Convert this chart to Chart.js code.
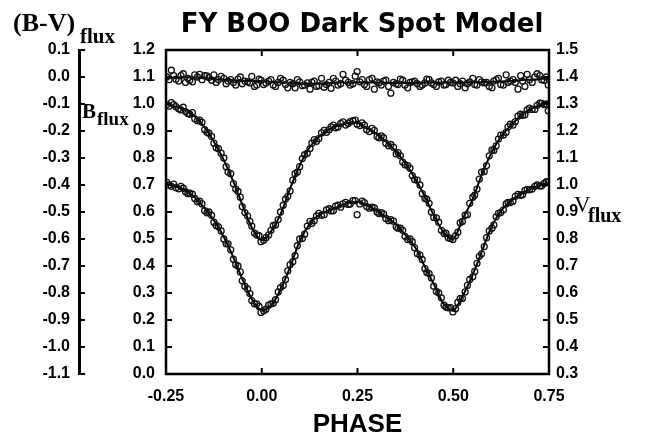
<!DOCTYPE html>
<html lang="en">
<head>
    <meta charset="UTF-8">
    <title>FY BOO Dark Spot Model</title>
    <script src="https://cdn.jsdelivr.net/npm/chart.js"></script>
    <style>
        html, body { margin: 0; padding: 0; background: #fff; }
        #wrap { width: 649px; height: 444px; }
    </style>
</head>
<body>
<div id="wrap"><canvas id="lightChart" width="649" height="444"></canvas></div>
<script>
    // Phase grid of the model curves
    const modelPhase = [-0.25, -0.225, -0.2, -0.175, -0.15, -0.125, -0.1, -0.075, -0.05, -0.025,
        0.0, 0.025, 0.05, 0.075, 0.1, 0.125, 0.15, 0.175, 0.2, 0.225,
        0.25, 0.275, 0.3, 0.325, 0.35, 0.375, 0.4, 0.425, 0.45, 0.475,
        0.5, 0.525, 0.55, 0.575, 0.6, 0.625, 0.65, 0.675, 0.7, 0.725, 0.75];
    // B flux model (left inner axis)
    const modelB = [1.00, 0.99, 0.98, 0.955, 0.915, 0.86, 0.795, 0.715, 0.625, 0.54,
        0.495, 0.53, 0.595, 0.69, 0.775, 0.84, 0.88, 0.905, 0.92, 0.93,
        0.93, 0.91, 0.89, 0.86, 0.825, 0.78, 0.725, 0.66, 0.585, 0.525,
        0.50, 0.575, 0.645, 0.74, 0.82, 0.88, 0.92, 0.955, 0.98, 0.995, 1.01];
    // V flux model (right axis)
    const modelV = [1.005, 0.995, 0.98, 0.955, 0.915, 0.87, 0.81, 0.735, 0.65, 0.575,
        0.535, 0.555, 0.615, 0.70, 0.795, 0.855, 0.89, 0.905, 0.92, 0.933,
        0.938, 0.925, 0.905, 0.88, 0.855, 0.815, 0.77, 0.70, 0.63, 0.56,
        0.535, 0.59, 0.665, 0.755, 0.845, 0.905, 0.94, 0.965, 0.985, 0.998, 1.008];
    // (B-V) flux model (left outer axis)
    const modelBV = [-0.005, -0.002, 0.0, -0.002, -0.005, -0.008, -0.01, -0.012, -0.015, -0.015,
        -0.015, -0.018, -0.02, -0.022, -0.025, -0.025, -0.025, -0.022, -0.02, -0.02,
        -0.02, -0.02, -0.02, -0.021, -0.022, -0.022, -0.022, -0.021, -0.02, -0.02,
        -0.02, -0.02, -0.02, -0.019, -0.018, -0.017, -0.015, -0.012, -0.01, -0.008, -0.005];

    // Observed points, first set
    const obsPhase = [-0.248, -0.236, -0.224, -0.211, -0.199, -0.188, -0.175, -0.162, -0.149, -0.138,
        -0.125, -0.113, -0.099, -0.088, -0.074, -0.062, -0.051, -0.037, -0.026, -0.013,
        -0.002, 0.011, 0.024, 0.036, 0.049, 0.062, 0.074, 0.087, 0.099, 0.112,
        0.126, 0.137, 0.149, 0.163, 0.176, 0.187, 0.199, 0.212, 0.226, 0.238,
        0.249, 0.262, 0.274, 0.288, 0.301, 0.312, 0.324, 0.337, 0.351, 0.362,
        0.374, 0.387, 0.399, 0.413, 0.426, 0.437, 0.449, 0.462, 0.476, 0.487,
        0.499, 0.512, 0.524, 0.537, 0.551, 0.562, 0.574, 0.587, 0.601, 0.612,
        0.624, 0.638, 0.649, 0.662, 0.676, 0.687, 0.699, 0.713, 0.726, 0.737, 0.748];
    const obsB = [0.998, 1.005, 0.99, 0.978, 0.972, 0.962, 0.945, 0.940, 0.905, 0.892,
        0.855, 0.835, 0.800, 0.748, 0.705, 0.676, 0.620, 0.585, 0.548, 0.515,
        0.490, 0.505, 0.532, 0.552, 0.600, 0.648, 0.678, 0.742, 0.768, 0.812,
        0.835, 0.868, 0.872, 0.902, 0.905, 0.922, 0.915, 0.934, 0.928, 0.938,
        0.925, 0.930, 0.905, 0.910, 0.880, 0.882, 0.855, 0.850, 0.815, 0.808,
        0.775, 0.762, 0.720, 0.700, 0.650, 0.632, 0.580, 0.562, 0.520, 0.505,
        0.498, 0.525, 0.565, 0.590, 0.655, 0.685, 0.748, 0.772, 0.830, 0.845,
        0.885, 0.895, 0.925, 0.935, 0.962, 0.960, 0.985, 0.980, 1.003, 0.998, 0.975];
    const obsV = [1.010, 0.995, 0.990, 0.995, 0.975, 0.970, 0.950, 0.940, 0.905, 0.900,
        0.862, 0.845, 0.800, 0.782, 0.725, 0.700, 0.645, 0.615, 0.572, 0.560,
        0.528, 0.540, 0.560, 0.575, 0.620, 0.650, 0.705, 0.738, 0.800, 0.818,
        0.865, 0.868, 0.895, 0.890, 0.912, 0.905, 0.925, 0.930, 0.928, 0.942,
        0.890, 0.940, 0.920, 0.918, 0.900, 0.898, 0.876, 0.872, 0.845, 0.840,
        0.810, 0.800, 0.768, 0.740, 0.690, 0.672, 0.625, 0.600, 0.555, 0.545,
        0.530, 0.565, 0.580, 0.628, 0.660, 0.710, 0.745, 0.805, 0.840, 0.882,
        0.898, 0.930, 0.935, 0.958, 0.962, 0.980, 0.982, 0.995, 0.996, 1.006, 1.010];
    const obsBV = [0.0, 0.025, -0.008, 0.005, -0.02, -0.012, 0.008, 0.01, 0.005, -0.002,
        0.008, -0.01, -0.005, -0.015, -0.02, -0.008, -0.025, -0.018, 0.002, -0.03,
        -0.012, -0.022, -0.01, -0.035, -0.005, -0.028, -0.02, -0.04, -0.018, -0.03,
        -0.045, -0.015, -0.032, -0.038, -0.02, -0.005, -0.03, 0.01, -0.02, -0.025,
        0.02, -0.01, -0.035, -0.005, -0.018, -0.03, -0.012, -0.06, -0.025, -0.008,
        -0.03, -0.02, -0.015, -0.035, -0.022, -0.01, -0.028, -0.018, -0.03, -0.012,
        -0.022, -0.035, -0.015, -0.025, -0.005, -0.03, -0.018, -0.02, -0.04, -0.01,
        -0.028, 0.008, -0.015, -0.02, 0.005, -0.035, -0.01, 0.0, 0.005, -0.012, -0.03];

    // Observed points, second set
    const obsPhase2 = [-0.242, -0.230, -0.217, -0.205, -0.193, -0.181, -0.168, -0.156, -0.143, -0.131,
        -0.119, -0.106, -0.093, -0.081, -0.068, -0.056, -0.044, -0.031, -0.019, -0.007,
        0.005, 0.018, 0.030, 0.043, 0.056, 0.068, 0.081, 0.093, 0.106, 0.119,
        0.131, 0.143, 0.156, 0.169, 0.181, 0.193, 0.206, 0.219, 0.231, 0.244,
        0.256, 0.268, 0.281, 0.294, 0.306, 0.318, 0.331, 0.344, 0.356, 0.368,
        0.381, 0.393, 0.406, 0.419, 0.431, 0.443, 0.456, 0.469, 0.481, 0.493,
        0.506, 0.518, 0.531, 0.543, 0.556, 0.568, 0.581, 0.594, 0.606, 0.618,
        0.631, 0.643, 0.656, 0.669, 0.681, 0.693, 0.706, 0.719, 0.731, 0.743];
    const obsB2 = [0.992, 0.998, 0.982, 0.988, 0.965, 0.968, 0.938, 0.932, 0.895, 0.880,
        0.838, 0.818, 0.768, 0.742, 0.685, 0.655, 0.598, 0.565, 0.522, 0.512,
        0.495, 0.515, 0.550, 0.572, 0.625, 0.658, 0.718, 0.748, 0.798, 0.818,
        0.855, 0.862, 0.893, 0.895, 0.915, 0.912, 0.928, 0.922, 0.935, 0.940,
        0.920, 0.922, 0.898, 0.902, 0.875, 0.875, 0.845, 0.840, 0.820, 0.785,
        0.772, 0.735, 0.718, 0.668, 0.648, 0.600, 0.578, 0.532, 0.522, 0.502,
        0.512, 0.560, 0.588, 0.632, 0.662, 0.722, 0.750, 0.808, 0.828, 0.870,
        0.885, 0.915, 0.922, 0.955, 0.958, 0.978, 0.980, 0.995, 1.002, 1.000];
    const obsV2 = [1.000, 1.003, 0.986, 0.988, 0.968, 0.966, 0.938, 0.930, 0.897, 0.888,
        0.850, 0.830, 0.782, 0.760, 0.705, 0.678, 0.625, 0.598, 0.560, 0.550,
        0.534, 0.555, 0.562, 0.604, 0.628, 0.682, 0.716, 0.775, 0.802, 0.848,
        0.858, 0.886, 0.888, 0.908, 0.904, 0.922, 0.918, 0.936, 0.930, 0.942,
        0.930, 0.935, 0.914, 0.915, 0.894, 0.893, 0.868, 0.866, 0.840, 0.832,
        0.798, 0.790, 0.746, 0.724, 0.676, 0.656, 0.606, 0.582, 0.548, 0.546,
        0.542, 0.580, 0.604, 0.650, 0.680, 0.736, 0.772, 0.830, 0.852, 0.895,
        0.908, 0.936, 0.940, 0.965, 0.964, 0.984, 0.985, 1.000, 0.997, 1.012];
    const obsBV2 = [-0.01, 0.005, -0.015, 0.012, -0.005, -0.018, 0.0, -0.01, 0.004, -0.012,
        -0.02, 0.002, -0.025, -0.01, -0.03, 0.0, -0.015, -0.022, -0.035, -0.008,
        -0.028, -0.015, -0.03, -0.02, -0.012, -0.04, -0.025, -0.01, -0.032, -0.022,
        -0.02, -0.035, -0.005, -0.028, -0.042, -0.015, -0.025, -0.012, -0.03, 0.003,
        -0.018, -0.028, -0.01, -0.045, -0.022, -0.015, -0.035, -0.02, -0.028, -0.012,
        -0.04, -0.018, -0.025, -0.03, -0.008, -0.022, -0.035, -0.015, -0.028, -0.02,
        -0.012, -0.025, -0.04, -0.018, -0.028, -0.01, -0.022, -0.035, -0.015, -0.005,
        -0.03, -0.02, -0.01, -0.045, -0.015, 0.01, -0.02, 0.012, -0.01, 0.0];

    const xTicks = [-0.25, 0.0, 0.25, 0.50, 0.75];

    const pts = (xs, ys) => xs.map((x, i) => ({ x: x, y: ys[i] }));

    const tickFont = { family: "'Liberation Sans', Arial, sans-serif", size: 16, weight: 'bold' };
    const fmt1 = v => (Math.abs(v) < 1e-9 ? 0 : v).toFixed(1);

    const obsStyle = {
        showLine: false,
        pointStyle: 'circle',
        pointRadius: 3,
        pointBorderWidth: 1.3,
        pointBorderColor: '#111',
        pointBackgroundColor: 'rgba(0,0,0,0)'
    };
    const lineStyle = {
        showLine: true,
        borderColor: '#000',
        borderWidth: 2,
        pointRadius: 0,
        tension: 0.3
    };

    // inner ticks, frame and axis names
    const decorations = {
        id: 'decorations',
        afterDraw(chart) {
            const c = chart.ctx;
            const a = chart.chartArea;
            const s = chart.scales;
            c.save();
            c.strokeStyle = '#000';
            c.lineWidth = 2.5;
            c.strokeRect(a.left, a.top, a.right - a.left, a.bottom - a.top);

            c.lineWidth = 2;
            c.beginPath();
            s.x.ticks.forEach(t => {
                const px = s.x.getPixelForValue(t.value);
                c.moveTo(px, a.bottom); c.lineTo(px, a.bottom - 6);
                c.moveTo(px, a.top); c.lineTo(px, a.top + 6);
            });
            s.yB.ticks.forEach(t => {
                const py = s.yB.getPixelForValue(t.value);
                c.moveTo(a.left, py); c.lineTo(a.left + 6, py);
            });
            s.yV.ticks.forEach(t => {
                const py = s.yV.getPixelForValue(t.value);
                c.moveTo(a.right, py); c.lineTo(a.right - 6, py);
            });
            s.yBV.ticks.forEach(t => {
                const py = s.yBV.getPixelForValue(t.value);
                c.moveTo(s.yBV.right, py); c.lineTo(s.yBV.right + 6, py);
            });
            c.stroke();

            c.fillStyle = '#000';
            c.textBaseline = 'alphabetic';
            c.textAlign = 'center';
            c.font = "bold 26px 'DejaVu Sans', Verdana, sans-serif";
            c.fillText('FY BOO Dark Spot Model', 362, 32);

            c.textAlign = 'left';
            const serif = "'Liberation Serif', 'Times New Roman', serif";
            c.font = 'bold 26px ' + serif;
            c.fillText('(B-V)', 13, 31);
            c.font = 'bold 21px ' + serif;
            c.fillText('flux', 80, 43);

            c.font = 'bold 21px ' + serif;
            c.fillText('B', 82, 118);
            c.font = 'bold 19px ' + serif;
            c.fillText('flux', 97, 125);

            c.font = '23px ' + serif;
            c.fillText('V', 574, 212);
            c.font = 'bold 20px ' + serif;
            c.fillText('flux', 588, 222);
            c.restore();
        }
    };

    new Chart(document.getElementById('lightChart'), {
        type: 'scatter',
        data: {
            datasets: [
                Object.assign({ label: '(B-V) obs', data: pts(obsPhase, obsBV), yAxisID: 'yBV' }, obsStyle),
                Object.assign({ label: '(B-V) obs 2', data: pts(obsPhase2, obsBV2), yAxisID: 'yBV' }, obsStyle),
                Object.assign({ label: 'B obs', data: pts(obsPhase, obsB), yAxisID: 'yB' }, obsStyle),
                Object.assign({ label: 'B obs 2', data: pts(obsPhase2, obsB2), yAxisID: 'yB' }, obsStyle),
                Object.assign({ label: 'V obs', data: pts(obsPhase, obsV), yAxisID: 'yV' }, obsStyle),
                Object.assign({ label: 'V obs 2', data: pts(obsPhase2, obsV2), yAxisID: 'yV' }, obsStyle),
                Object.assign({ label: '(B-V) model', data: pts(modelPhase, modelBV), yAxisID: 'yBV' }, lineStyle),
                Object.assign({ label: 'B model', data: pts(modelPhase, modelB), yAxisID: 'yB' }, lineStyle),
                Object.assign({ label: 'V model', data: pts(modelPhase, modelV), yAxisID: 'yV' }, lineStyle)
            ]
        },
        options: {
            responsive: false,
            animation: false,
            devicePixelRatio: 1,
            layout: { padding: { top: 50, left: 0, right: 0, bottom: 0 } },
            plugins: {
                legend: { display: false },
                tooltip: { enabled: false },
                title: { display: false }
            },
            scales: {
                x: {
                    type: 'linear',
                    position: 'bottom',
                    min: -0.25,
                    max: 0.75,
                    afterBuildTicks: sc => { sc.ticks = xTicks.map(v => ({ value: v })); },
                    afterFit: sc => { sc.height = 70; },
                    grid: { display: false, drawTicks: false },
                    border: { display: false },
                    ticks: {
                        color: '#000', font: tickFont, padding: 13, maxRotation: 0,
                        callback: v => v.toFixed(2)
                    },
                    title: {
                        display: true, text: 'PHASE', color: '#000',
                        font: { family: "'Liberation Sans', Arial, sans-serif", size: 26, weight: 'bold' },
                        padding: { top: 0, bottom: 4 }
                    }
                },
                yB: {
                    type: 'linear',
                    position: 'left',
                    weight: 0,
                    min: 0, max: 1.2,
                    afterFit: sc => { sc.width = 87; },
                    grid: { display: false, drawTicks: false },
                    border: { display: false },
                    ticks: { color: '#000', font: tickFont, padding: 11, stepSize: 0.1, autoSkip: false, callback: fmt1 }
                },
                yBV: {
                    type: 'linear',
                    position: 'left',
                    weight: 1,
                    min: -1.1, max: 0.1,
                    afterFit: sc => { sc.width = 79; },
                    grid: { display: false, drawTicks: false },
                    border: { display: true, color: '#000', width: 3 },
                    ticks: { color: '#000', font: tickFont, padding: 9, stepSize: 0.1, autoSkip: false, callback: fmt1 }
                },
                yV: {
                    type: 'linear',
                    position: 'right',
                    min: 0.3, max: 1.5,
                    afterFit: sc => { sc.width = 100; },
                    grid: { display: false, drawTicks: false },
                    border: { display: false },
                    ticks: { color: '#000', font: tickFont, padding: 7, stepSize: 0.1, autoSkip: false, callback: fmt1 }
                }
            }
        },
        plugins: [decorations]
    });
</script>
</body>
</html>
